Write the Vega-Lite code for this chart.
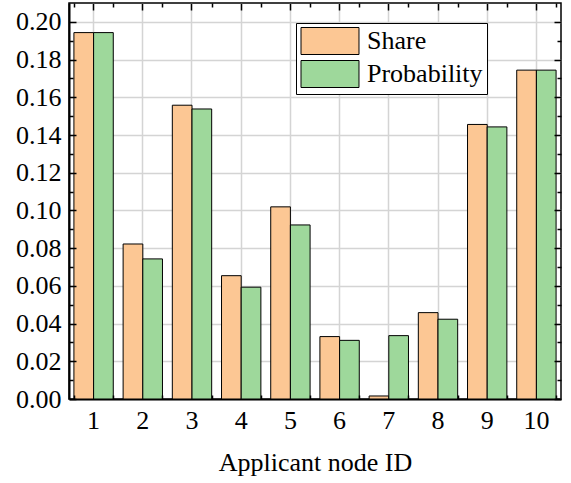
{
  "$schema": "https://vega.github.io/schema/vega-lite/v6.json",
  "width": 492,
  "height": 396,
  "autosize": {"type": "none"},
  "padding": {"left": 69, "top": 3, "right": 10, "bottom": 84},
  "config": {
    "font": "Times New Roman, Liberation Serif, serif",
    "view": {"stroke": "#000000", "strokeWidth": 1.5},
    "axis": {"labelFont": "Times New Roman, Liberation Serif, serif", "titleFont": "Times New Roman, Liberation Serif, serif", "labelColor": "#000", "titleColor": "#000", "labelFontSize": 26, "titleFontSize": 26, "titleFontWeight": "normal", "gridColor": "#d4d4d4", "gridWidth": 1.5, "tickColor": "#000", "tickWidth": 1.5, "domain": false}
  },
  "data": {"values": [
    {"id": 1, "series": "Share", "value": 0.1943},
    {"id": 1, "series": "Probability", "value": 0.1943},
    {"id": 2, "series": "Share", "value": 0.0822},
    {"id": 2, "series": "Probability", "value": 0.0743},
    {"id": 3, "series": "Share", "value": 0.1558},
    {"id": 3, "series": "Probability", "value": 0.1538},
    {"id": 4, "series": "Share", "value": 0.0654},
    {"id": 4, "series": "Probability", "value": 0.0593},
    {"id": 5, "series": "Share", "value": 0.1019},
    {"id": 5, "series": "Probability", "value": 0.0923},
    {"id": 6, "series": "Share", "value": 0.0331},
    {"id": 6, "series": "Probability", "value": 0.0311},
    {"id": 7, "series": "Share", "value": 0.0016},
    {"id": 7, "series": "Probability", "value": 0.0336},
    {"id": 8, "series": "Share", "value": 0.0458},
    {"id": 8, "series": "Probability", "value": 0.0423},
    {"id": 9, "series": "Share", "value": 0.1456},
    {"id": 9, "series": "Probability", "value": 0.1443},
    {"id": 10, "series": "Share", "value": 0.1744},
    {"id": 10, "series": "Probability", "value": 0.1744}
  ]},
  "resolve": {"axis": {"x": "independent", "y": "independent"}},
  "layer": [
    {
      "mark": {"type": "bar", "stroke": "#000", "strokeWidth": 1},
      "encoding": {
        "x": {"field": "id", "type": "ordinal", "scale": {"paddingInner": 0.2, "paddingOuter": 0.1},
              "axis": {"orient": "bottom", "title": "Applicant node ID", "labelAngle": 0, "ticks": false, "grid": true, "labelPadding": 8, "titlePadding": 16, "domain": true, "domainColor": "#000", "domainWidth": 2}},
        "xOffset": {"field": "series", "type": "nominal", "sort": ["Share", "Probability"]},
        "y": {"field": "value", "type": "quantitative", "scale": {"domain": [0, 0.21], "nice": false},
              "axis": {"orient": "left", "title": null, "values": [0, 0.02, 0.04, 0.06, 0.08, 0.1, 0.12, 0.14, 0.16, 0.18, 0.2], "format": ".2f", "ticks": false, "grid": true, "labelPadding": 8, "domain": true, "domainColor": "#000", "domainWidth": 2}},
        "color": {"field": "series", "type": "nominal",
                  "scale": {"domain": ["Share", "Probability"], "range": ["#FCC794", "#9ED89B"]},
                  "legend": {"orient": "none", "legendX": 227, "legendY": 20, "title": null, "fillColor": "#fff", "strokeColor": "#000", "padding": 4, "labelFont": "Times New Roman, Liberation Serif, serif", "labelFontSize": 26, "labelColor": "#000", "labelOffset": 23, "symbolOffset": 16, "rowPadding": 1, "symbolType": "M-2.148,-1H2.148V1H-2.148Z", "symbolSize": 729, "symbolStrokeColor": "#000", "symbolStrokeWidth": 1, "symbolOpacity": 1}}
      }
    },
    {
      "mark": {"type": "bar", "opacity": 0},
      "encoding": {
        "x": {"field": "id", "type": "ordinal", "axis": {"orient": "top", "title": null, "labels": false, "grid": false, "tickSize": -7, "zindex": 2}},
        "y": {"field": "value", "type": "quantitative",
              "axis": {"orient": "right", "title": null, "labels": false, "grid": false, "zindex": 2, "tickSize": -7,
                       "values": [0, 0.02, 0.04, 0.06, 0.08, 0.1, 0.12, 0.14, 0.16, 0.18, 0.2]}}
      }
    },
    {
      "mark": {"type": "bar", "opacity": 0},
      "encoding": {
        "x": {"field": "id", "type": "ordinal", "axis": {"orient": "top", "title": null, "labels": false, "grid": false, "tickBand": "extent", "tickSize": -4, "zindex": 2}},
        "y": {"field": "value", "type": "quantitative",
              "axis": {"orient": "left", "title": null, "labels": false, "grid": false, "zindex": 2, "tickSize": -7,
                       "values": [0, 0.02, 0.04, 0.06, 0.08, 0.1, 0.12, 0.14, 0.16, 0.18, 0.2]}}
      }
    },
    {
      "mark": {"type": "bar", "opacity": 0},
      "encoding": {
        "x": {"field": "id", "type": "ordinal", "axis": {"orient": "bottom", "title": null, "labels": false, "grid": false, "tickBand": "extent", "tickSize": -4, "zindex": 2}},
        "y": {"field": "value", "type": "quantitative",
              "axis": {"orient": "right", "title": null, "labels": false, "grid": false, "zindex": 2, "tickSize": -4,
                       "values": [0.01, 0.03, 0.05, 0.07, 0.09, 0.11, 0.13, 0.15, 0.17, 0.19]}}
      }
    },
    {
      "mark": {"type": "bar", "opacity": 0},
      "encoding": {
        "x": {"field": "id", "type": "ordinal", "axis": null},
        "y": {"field": "value", "type": "quantitative",
              "axis": {"orient": "left", "title": null, "labels": false, "grid": false, "zindex": 2, "tickSize": -4,
                       "values": [0.01, 0.03, 0.05, 0.07, 0.09, 0.11, 0.13, 0.15, 0.17, 0.19]}}
      }
    }
  ]
}
